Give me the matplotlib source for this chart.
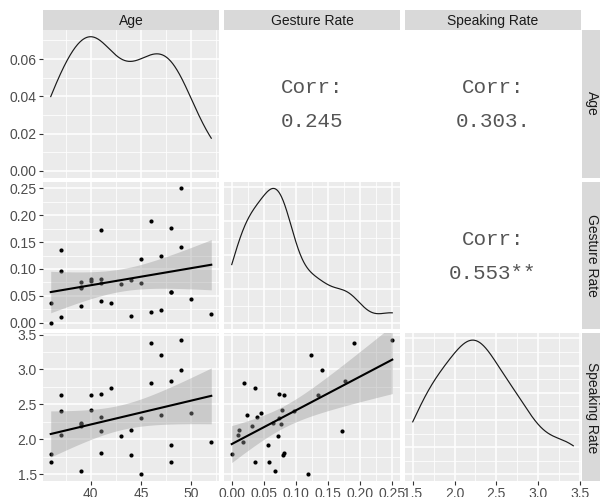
import numpy as np
import matplotlib
matplotlib.use("Agg")
import matplotlib.pyplot as plt
from matplotlib.ticker import FixedLocator, MaxNLocator

plt.rcParams['font.family'] = ['Liberation Sans', 'DejaVu Sans']

# ---------------- data ----------------
age = [36, 36, 37, 37, 37, 39, 39, 39, 39, 40, 40, 41, 41, 41, 41, 42,
       43, 44, 44, 45, 45, 46, 46, 47, 47, 48, 48, 48, 49, 49, 50, 52]
gesture = [0.000, 0.037, 0.135, 0.097, 0.010, 0.031, 0.065, 0.076, 0.067,
           0.082, 0.078, 0.172, 0.040, 0.074, 0.081, 0.036, 0.072, 0.012,
           0.080, 0.119, 0.073, 0.190, 0.019, 0.124, 0.024, 0.176, 0.057,
           0.058, 0.250, 0.140, 0.045, 0.017]
speaking = [1.79, 1.67, 2.63, 2.41, 2.06, 2.19, 2.23, 2.22, 1.55,
            2.63, 2.42, 2.12, 2.32, 2.65, 1.81, 2.74, 2.05, 2.14,
            1.78, 1.50, 2.30, 3.38, 2.80, 3.21, 2.35, 2.83, 1.92,
            1.67, 3.42, 2.99, 2.38, 1.96]

var_names = ["Age", "Gesture Rate", "Speaking Rate"]
corr_text = {(0, 1): "0.245", (0, 2): "0.303.", (1, 2): "0.553**"}

age_ticks = [40, 45, 50]
age_ticklabels = ["40", "45", "50"]
gesture_ticks = [0.00, 0.05, 0.10, 0.15, 0.20, 0.25]
gesture_ticklabels = ["0.00", "0.05", "0.10", "0.15", "0.20", "0.25"]
speaking_ticks = [1.5, 2.0, 2.5, 3.0, 3.5]
speaking_ticklabels = ["1.5", "2.0", "2.5", "3.0", "3.5"]
age_density_ticks = [0.00, 0.02, 0.04, 0.06]
age_density_ticklabels = ["0.00", "0.02", "0.04", "0.06"]

data = [np.array(age, float), np.array(gesture, float), np.array(speaking, float)]
x_ticks = [age_ticks, gesture_ticks, speaking_ticks]
x_ticklabels = [age_ticklabels, gesture_ticklabels, speaking_ticklabels]

T_CRIT = 2.042  # t(0.975, df = 30)

# ---------------- helpers ----------------
def expand(lo, hi, f=0.05):
    d = (hi - lo) * f
    return lo - d, hi + d

def kde(x, grid):
    n = len(x)
    sd = np.std(x, ddof=1)
    q75, q25 = np.percentile(x, [75, 25])
    bw = 0.9 * min(sd, (q75 - q25) / 1.34) * n ** -0.2
    z = (grid[:, None] - x[None, :]) / bw
    return np.exp(-0.5 * z ** 2).sum(axis=1) / (n * bw * np.sqrt(2 * np.pi))

def minors(majors):
    m = np.asarray(majors, float)
    step = m[1] - m[0]
    return np.arange(m[0] - step / 2, m[-1] + step, step)

PANEL_BG = "#EBEBEB"
STRIP_BG = "#D9D9D9"
TICK_COLOR = "#333333"
LABEL_COLOR = "#4D4D4D"

W, H = 600, 497
fig = plt.figure(figsize=(W / 100, H / 100), dpi=100)
fig.patch.set_facecolor("white")

col_left = [42.7, 223.7, 404.7]
row_top = [30.0, 181.7, 333.4]
pw, ph = 176.6, 147.7

def fig_rect(x, y_top, w, h):
    return [x / W, (H - y_top - h) / H, w / W, h / H]

def style_grid(ax, xmaj, ymaj, xmin_, ymin_):
    ax.set_facecolor(PANEL_BG)
    for s in ax.spines.values():
        s.set_visible(False)
    ax.xaxis.set_major_locator(FixedLocator(xmaj))
    ax.yaxis.set_major_locator(FixedLocator(ymaj))
    ax.xaxis.set_minor_locator(FixedLocator(xmin_))
    ax.yaxis.set_minor_locator(FixedLocator(ymin_))
    ax.grid(True, which="major", color="white", lw=1.1, zorder=0)
    ax.grid(True, which="minor", color="white", lw=0.55, zorder=0)
    ax.set_axisbelow(True)
    ax.tick_params(which="minor", length=0)
    ax.tick_params(which="major", length=2.75, width=0.8, color=TICK_COLOR,
                   labelsize=10, labelcolor=LABEL_COLOR, pad=1.5)

axes = {}
for i in range(3):        # row
    for j in range(3):    # column
        ax = fig.add_axes(fig_rect(col_left[j], row_top[i], pw, ph))
        axes[(i, j)] = ax
        xdat = data[j]
        xlim = expand(xdat.min(), xdat.max())
        if i < j:
            # correlation panel
            ax.set_facecolor("white")
            for s in ax.spines.values():
                s.set_visible(False)
            ax.set_xticks([]); ax.set_yticks([])
            ax.set_xlim(0, 1); ax.set_ylim(0, 1)
            ax.text(0.5, 0.5 + 16 / ph, "Corr:", ha="center", va="center",
                    family="Liberation Mono", fontsize=15, color="#555555")
            ax.text(0.5, 0.5 - 18 / ph, corr_text[(i, j)], ha="center",
                    va="center", family="Liberation Mono", fontsize=15,
                    color="#555555")
            continue
        if i == j:
            grid = np.linspace(xdat.min(), xdat.max(), 400)
            dens = kde(xdat, grid)
            ylim = expand(0.0, dens.max())
            if i == 0:
                ymaj = age_density_ticks
            else:
                ymaj = list(MaxNLocator(nbins=5).tick_values(0, dens.max()))
            style_grid(ax, x_ticks[j], ymaj, minors(x_ticks[j]), minors(ymaj))
            ax.plot(grid, dens, color="#1A1A1A", lw=0.85, zorder=3)
            ax.set_xlim(*xlim); ax.set_ylim(*ylim)
        else:
            ydat = data[i]
            ylim = expand(ydat.min(), ydat.max())
            style_grid(ax, x_ticks[j], x_ticks[i], minors(x_ticks[j]),
                       minors(x_ticks[i]))
            ax.scatter(xdat, ydat, s=9, color="black", lw=0, zorder=2)
            # linear fit with 95% confidence band
            n = len(xdat)
            xb = xdat.mean()
            sxx = ((xdat - xb) ** 2).sum()
            b1 = ((xdat - xb) * (ydat - ydat.mean())).sum() / sxx
            b0 = ydat.mean() - b1 * xb
            resid = ydat - (b0 + b1 * xdat)
            s2 = (resid ** 2).sum() / (n - 2)
            xs = np.linspace(xdat.min(), xdat.max(), 80)
            yh = b0 + b1 * xs
            se = np.sqrt(s2 * (1.0 / n + (xs - xb) ** 2 / sxx))
            ax.fill_between(xs, yh - T_CRIT * se, yh + T_CRIT * se,
                            color="#999999", alpha=0.4, lw=0, zorder=3)
            ax.plot(xs, yh, color="black", lw=1.5, zorder=4)
            ax.set_xlim(*xlim); ax.set_ylim(*ylim)

        # tick labels only on outer axes
        if j == 0:
            if i == 0:
                ax.set_yticklabels(age_density_ticklabels)
            else:
                ax.set_yticklabels(x_ticklabels[i])
        else:
            ax.tick_params(axis="y", which="major", length=0, labelleft=False)
        if i == 2:
            ax.set_xticklabels(x_ticklabels[j])
        else:
            ax.tick_params(axis="x", which="major", length=0, labelbottom=False)

# strips
for j in range(3):
    sax = fig.add_axes(fig_rect(col_left[j], 10.0, pw, 20.0))
    sax.set_facecolor(STRIP_BG)
    sax.set_xticks([]); sax.set_yticks([])
    for s in sax.spines.values():
        s.set_visible(False)
    sax.text(0.5, 0.47, var_names[j], ha="center", va="center", fontsize=10,
             color="#1A1A1A", transform=sax.transAxes)
for i in range(3):
    sax = fig.add_axes(fig_rect(581.7, row_top[i], 18.3, ph))
    sax.set_facecolor(STRIP_BG)
    sax.set_xticks([]); sax.set_yticks([])
    for s in sax.spines.values():
        s.set_visible(False)
    sax.text(0.55, 0.5, var_names[i], ha="center", va="center", fontsize=10,
             color="#1A1A1A", rotation=-90, transform=sax.transAxes)

fig.savefig("out.png", dpi=100, facecolor="white")
